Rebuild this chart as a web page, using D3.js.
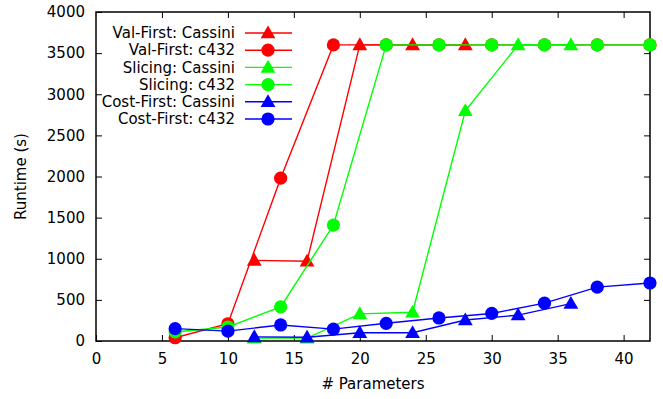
<!DOCTYPE html>
<html>
<head>
<meta charset="utf-8">
<script src="https://cdn.jsdelivr.net/npm/d3@7"></script>
<style>
  body { margin: 0; background: #fff; }
  text { font-family: "DejaVu Sans", sans-serif; }
</style>
</head>
<body>
<div id="chart"></div>
<script>
// --- datos ---
const cassiniX = [12, 16, 20, 24, 28, 32, 36];
const c432X = [6, 10, 14, 18, 22, 26, 30, 34, 38, 42];

const valFirstCassini = [980, 970, 3600, 3600, 3600];
const valFirstC432 = [40, 210, 1980, 3600, 3600, 3600, 3600, 3600, 3600, 3600];
const slicingCassini = [35, 35, 330, 350, 2800, 3600, 3600];
const slicingC432 = [110, 170, 415, 1410, 3600, 3600, 3600, 3600, 3600, 3600];
const costFirstCassini = [50, 45, 100, 100, 255, 315, 455];
const costFirstC432 = [150, 120, 195, 145, 215, 280, 335, 460, 655, 705];

const xTicks = [0, 5, 10, 15, 20, 25, 30, 35, 40];
const yTicks = [0, 500, 1000, 1500, 2000, 2500, 3000, 3500, 4000];

const series = [
  {name: "Val-First: Cassini", xs: cassiniX, ys: valFirstCassini, color: "#ff0000", shape: "tri"},
  {name: "Val-First: c432", xs: c432X, ys: valFirstC432, color: "#ff0000", shape: "circle"},
  {name: "Slicing: Cassini", xs: cassiniX, ys: slicingCassini, color: "#00ff00", shape: "tri"},
  {name: "Slicing: c432", xs: c432X, ys: slicingC432, color: "#00ff00", shape: "circle"},
  {name: "Cost-First: Cassini", xs: cassiniX, ys: costFirstCassini, color: "#0000ff", shape: "tri"},
  {name: "Cost-First: c432", xs: c432X, ys: costFirstC432, color: "#0000ff", shape: "circle"}
];

const fontSize = "15px";

// --- lienzo ---
const margin = {top: 12, right: 13, bottom: 58, left: 96},
      width = 663 - margin.left - margin.right,
      height = 399 - margin.top - margin.bottom;

const svg = d3.select("#chart")
  .append("svg")
    .attr("width", 663)
    .attr("height", 399)
  .append("g")
    .attr("transform", `translate(${margin.left},${margin.top})`);

const x = d3.scaleLinear().domain([0, 42]).range([0, width]);
const y = d3.scaleLinear().domain([0, 4000]).range([height, 0]);

const tickLen = 6;

// ejes con marcas hacia dentro
svg.append("g")
  .attr("transform", `translate(0,${height})`)
  .call(d3.axisBottom(x).tickValues(xTicks).tickFormat(d3.format("d")).tickSizeInner(-tickLen).tickSizeOuter(0).tickPadding(12))
  .call(g => g.select(".domain").remove())
  .selectAll("text").style("font-size", fontSize).attr("fill", "#000");

svg.append("g")
  .call(d3.axisTop(x).tickValues(xTicks.filter(v => v > 0)).tickSizeInner(-tickLen).tickSizeOuter(0).tickFormat(""))
  .call(g => g.select(".domain").remove());

svg.append("g")
  .call(d3.axisLeft(y).tickValues(yTicks).tickFormat(d3.format("d")).tickSizeInner(-tickLen).tickSizeOuter(0).tickPadding(11))
  .call(g => g.select(".domain").remove())
  .selectAll("text").style("font-size", fontSize).attr("fill", "#000");

svg.append("g")
  .attr("transform", `translate(${width},0)`)
  .call(d3.axisRight(y).tickValues(yTicks.filter(v => v > 0 && v < 4000)).tickSizeInner(-tickLen).tickSizeOuter(0).tickFormat(""))
  .call(g => g.select(".domain").remove());

svg.selectAll(".tick line").attr("stroke", "#000");

// marco
svg.append("rect")
  .attr("width", width)
  .attr("height", height)
  .attr("fill", "none")
  .attr("stroke", "#000")
  .attr("stroke-width", 1.5);

// etiquetas
svg.append("text")
  .attr("transform", "rotate(-90)")
  .attr("x", -height / 2)
  .attr("y", -margin.left + 26)
  .style("text-anchor", "middle")
  .style("font-size", fontSize)
  .text("Runtime (s)");

svg.append("text")
  .attr("x", width / 2)
  .attr("y", height + 48)
  .style("text-anchor", "middle")
  .style("font-size", fontSize)
  .text("# Parameters");

const line = d3.line().x(d => x(d[0])).y(d => y(d[1]));
const triPath = d3.symbol().type(d3.symbolTriangle).size(95)();

function drawMarker(g, shape, color, cx, cy) {
  if (shape === "circle") {
    g.append("circle").attr("cx", cx).attr("cy", cy).attr("r", 6.6).attr("fill", color);
  } else {
    g.append("path").attr("d", triPath)
      .attr("transform", `translate(${cx},${cy + 1})`).attr("fill", color);
  }
}

// series
series.forEach(s => {
  const pts = s.ys.map((v, i) => [s.xs[i], v]);
  const g = svg.append("g");
  g.append("path")
    .datum(pts)
    .attr("d", line)
    .attr("fill", "none")
    .attr("stroke", s.color)
    .attr("stroke-width", 1.4);
  pts.forEach(p => drawMarker(g, s.shape, s.color, x(p[0]), y(p[1])));
});

// leyenda
const legend = svg.append("g").attr("transform", `translate(0,${21})`);
series.forEach((s, i) => {
  const ly = i * 17.2;
  legend.append("text")
    .attr("x", 139)
    .attr("y", ly)
    .attr("dy", "0.35em")
    .style("text-anchor", "end")
    .style("font-size", fontSize)
    .text(s.name);
  legend.append("line")
    .attr("x1", 149).attr("x2", 196)
    .attr("y1", ly).attr("y2", ly)
    .attr("stroke", s.color).attr("stroke-width", 1.4);
  drawMarker(legend, s.shape, s.color, 172, ly);
});
</script>
</body>
</html>
